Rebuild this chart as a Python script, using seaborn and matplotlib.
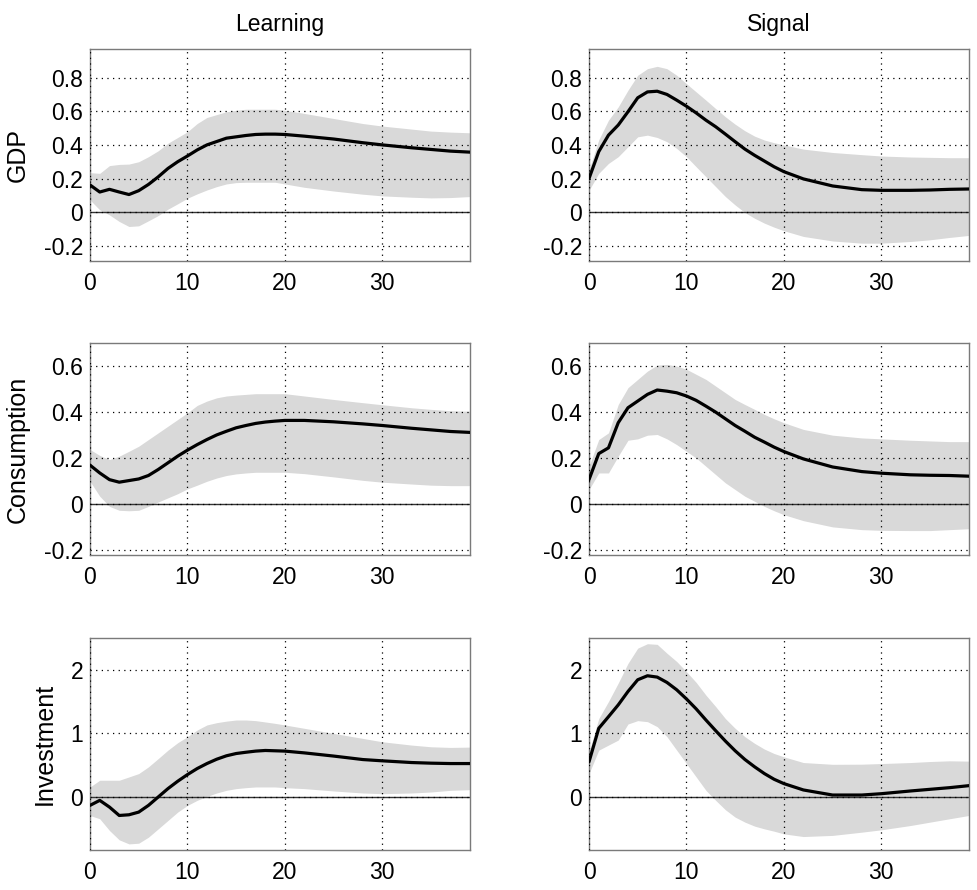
import numpy as np
import pandas as pd
import matplotlib
matplotlib.use("Agg")
import matplotlib.pyplot as plt
import seaborn as sns

# ---------------- data ----------------
horizon = [0, 1, 2, 3, 4, 5, 6, 7, 8, 9, 10, 11, 12, 13, 14, 15, 16, 17, 18, 19, 20,
           22, 25, 28, 30, 33, 35, 37, 39]

col_titles = ["Learning", "Signal"]
row_labels = ["GDP", "Consumption", "Investment"]

gdp_learning_med = [0.162, 0.12, 0.136, 0.12, 0.105, 0.128, 0.165, 0.21, 0.26, 0.30, 0.334, 0.37, 0.40, 0.42, 0.44, 0.448, 0.456, 0.462, 0.464, 0.464, 0.462, 0.452, 0.435, 0.413, 0.40, 0.383, 0.373, 0.363, 0.357]
gdp_learning_hi = [0.235, 0.231, 0.277, 0.284, 0.286, 0.30, 0.33, 0.365, 0.41, 0.444, 0.478, 0.527, 0.563, 0.58, 0.597, 0.606, 0.612, 0.612, 0.612, 0.612, 0.606, 0.587, 0.557, 0.527, 0.512, 0.494, 0.482, 0.476, 0.472]
gdp_learning_lo = [0.073, 0.014, -0.016, -0.055, -0.085, -0.081, -0.051, -0.02, 0.018, 0.05, 0.083, 0.109, 0.132, 0.152, 0.168, 0.176, 0.178, 0.178, 0.178, 0.178, 0.168, 0.148, 0.126, 0.107, 0.097, 0.089, 0.085, 0.087, 0.093]

gdp_signal_med = [0.20, 0.36, 0.458, 0.518, 0.597, 0.68, 0.715, 0.719, 0.70, 0.666, 0.63, 0.59, 0.547, 0.508, 0.464, 0.419, 0.375, 0.338, 0.304, 0.27, 0.241, 0.198, 0.156, 0.134, 0.13, 0.13, 0.132, 0.136, 0.138]
gdp_signal_hi = [0.25, 0.43, 0.547, 0.626, 0.725, 0.814, 0.853, 0.867, 0.853, 0.814, 0.764, 0.715, 0.666, 0.616, 0.567, 0.523, 0.484, 0.452, 0.429, 0.413, 0.40, 0.375, 0.355, 0.342, 0.334, 0.328, 0.326, 0.324, 0.324]
gdp_signal_lo = [0.13, 0.231, 0.29, 0.33, 0.389, 0.448, 0.458, 0.444, 0.419, 0.379, 0.33, 0.27, 0.211, 0.152, 0.093, 0.043, -0.002, -0.036, -0.065, -0.089, -0.11, -0.144, -0.171, -0.184, -0.184, -0.174, -0.164, -0.15, -0.138]

cons_learning_med = [0.17, 0.136, 0.107, 0.096, 0.103, 0.11, 0.125, 0.151, 0.18, 0.209, 0.235, 0.259, 0.281, 0.301, 0.317, 0.332, 0.342, 0.351, 0.357, 0.361, 0.364, 0.364, 0.358, 0.349, 0.342, 0.33, 0.323, 0.316, 0.312]
cons_learning_hi = [0.238, 0.212, 0.194, 0.209, 0.23, 0.252, 0.281, 0.31, 0.339, 0.368, 0.397, 0.429, 0.448, 0.462, 0.47, 0.474, 0.477, 0.48, 0.48, 0.48, 0.48, 0.47, 0.455, 0.441, 0.432, 0.419, 0.412, 0.406, 0.404]
cons_learning_lo = [0.10, 0.035, -0.009, -0.026, -0.028, -0.026, -0.009, 0.01, 0.028, 0.046, 0.067, 0.083, 0.10, 0.114, 0.125, 0.132, 0.136, 0.139, 0.139, 0.139, 0.139, 0.133, 0.119, 0.104, 0.096, 0.088, 0.083, 0.081, 0.081]

cons_signal_med = [0.107, 0.22, 0.245, 0.354, 0.419, 0.448, 0.477, 0.496, 0.491, 0.484, 0.47, 0.451, 0.426, 0.40, 0.371, 0.342, 0.317, 0.291, 0.27, 0.248, 0.229, 0.197, 0.162, 0.142, 0.135, 0.128, 0.126, 0.125, 0.122]
cons_signal_hi = [0.165, 0.281, 0.31, 0.433, 0.506, 0.542, 0.578, 0.604, 0.607, 0.60, 0.586, 0.564, 0.542, 0.513, 0.484, 0.455, 0.433, 0.412, 0.39, 0.371, 0.354, 0.325, 0.30, 0.288, 0.284, 0.278, 0.275, 0.272, 0.272]
cons_signal_lo = [0.064, 0.136, 0.136, 0.209, 0.278, 0.284, 0.30, 0.303, 0.284, 0.259, 0.23, 0.201, 0.165, 0.129, 0.093, 0.064, 0.035, 0.013, -0.009, -0.028, -0.045, -0.071, -0.098, -0.11, -0.113, -0.114, -0.114, -0.11, -0.106]

inv_learning_med = [-0.137, -0.058, -0.164, -0.296, -0.285, -0.243, -0.137, -0.005, 0.127, 0.243, 0.348, 0.443, 0.522, 0.59, 0.644, 0.68, 0.70, 0.718, 0.728, 0.723, 0.718, 0.69, 0.64, 0.585, 0.565, 0.538, 0.528, 0.522, 0.522]
inv_learning_hi = [0.153, 0.259, 0.259, 0.259, 0.311, 0.364, 0.47, 0.60, 0.733, 0.85, 0.945, 1.05, 1.13, 1.166, 1.19, 1.208, 1.208, 1.198, 1.177, 1.155, 1.13, 1.077, 0.997, 0.918, 0.865, 0.813, 0.786, 0.776, 0.781]
inv_learning_lo = [-0.296, -0.348, -0.533, -0.68, -0.744, -0.733, -0.638, -0.507, -0.375, -0.243, -0.137, -0.058, 0.005, 0.058, 0.10, 0.127, 0.142, 0.153, 0.153, 0.153, 0.142, 0.127, 0.09, 0.058, 0.047, 0.058, 0.074, 0.10, 0.11]

inv_signal_med = [0.549, 1.077, 1.26, 1.446, 1.657, 1.842, 1.905, 1.884, 1.80, 1.684, 1.54, 1.383, 1.208, 1.04, 0.876, 0.723, 0.586, 0.47, 0.364, 0.274, 0.206, 0.106, 0.026, 0.026, 0.047, 0.09, 0.116, 0.142, 0.174]
inv_signal_hi = [0.70, 1.23, 1.50, 1.79, 2.10, 2.34, 2.41, 2.40, 2.26, 2.13, 1.97, 1.80, 1.60, 1.42, 1.23, 1.077, 0.945, 0.84, 0.75, 0.68, 0.628, 0.538, 0.51, 0.512, 0.522, 0.538, 0.554, 0.565, 0.56]
inv_signal_lo = [0.364, 0.733, 0.813, 0.892, 1.145, 1.198, 1.182, 1.103, 0.945, 0.733, 0.522, 0.311, 0.10, -0.058, -0.206, -0.322, -0.401, -0.464, -0.507, -0.544, -0.586, -0.628, -0.61, -0.559, -0.522, -0.454, -0.401, -0.348, -0.296]

y_ticks = {
    "GDP": [-0.2, 0, 0.2, 0.4, 0.6, 0.8],
    "Consumption": [-0.2, 0, 0.2, 0.4, 0.6],
    "Investment": [0, 1, 2],
}
y_ticklabels = {
    "GDP": ["-0.2", "0", "0.2", "0.4", "0.6", "0.8"],
    "Consumption": ["-0.2", "0", "0.2", "0.4", "0.6"],
    "Investment": ["0", "1", "2"],
}
y_limits = {"GDP": (-0.29, 0.97), "Consumption": (-0.22, 0.70), "Investment": (-0.84, 2.5)}
x_ticks = [0, 10, 20, 30]

series = {
    ("GDP", "Learning"): (gdp_learning_med, gdp_learning_lo, gdp_learning_hi),
    ("GDP", "Signal"): (gdp_signal_med, gdp_signal_lo, gdp_signal_hi),
    ("Consumption", "Learning"): (cons_learning_med, cons_learning_lo, cons_learning_hi),
    ("Consumption", "Signal"): (cons_signal_med, cons_signal_lo, cons_signal_hi),
    ("Investment", "Learning"): (inv_learning_med, inv_learning_lo, inv_learning_hi),
    ("Investment", "Signal"): (inv_signal_med, inv_signal_lo, inv_signal_hi),
}

rows = []
for (var, shock), (med, lo, hi) in series.items():
    for h, m, l, u in zip(horizon, med, lo, hi):
        rows.append({"variable": var, "shock": shock, "h": h, "median": m, "lo": l, "hi": u})
df = pd.DataFrame(rows)

# ---------------- style ----------------
sns.set_style("white")
plt.rcParams["font.family"] = ["Liberation Sans", "DejaVu Sans"]
plt.rcParams["text.color"] = "black"
plt.rcParams["axes.labelcolor"] = "black"

fig = plt.figure(figsize=(9.77, 8.9), dpi=100)
W, H = 977, 890
col_left = [90, 589]
ax_w = 380
row_top = [49, 343, 638]
ax_h = 212

band_color = "#d9d9d9"
spine_color = "#7a7a7a"

for r, var in enumerate(row_labels):
    for c, shock in enumerate(col_titles):
        ax = fig.add_axes([col_left[c] / W, 1 - (row_top[r] + ax_h) / H, ax_w / W, ax_h / H])
        sub = df[(df.variable == var) & (df.shock == shock)]
        ax.fill_between(sub["h"], sub["lo"], sub["hi"], color=band_color, linewidth=0, zorder=1)
        ax.axhline(0, color="#333333", linewidth=1.0, zorder=2)
        sns.lineplot(data=sub, x="h", y="median", ax=ax, color="black", linewidth=2.3,
                     zorder=4, legend=False)
        ax.set_xlim(0, 39)
        ax.set_ylim(*y_limits[var])
        ax.set_xticks(x_ticks)
        ax.set_xticklabels([str(t) for t in x_ticks], fontsize=16.5)
        ax.set_yticks(y_ticks[var])
        ax.set_yticklabels(y_ticklabels[var], fontsize=16.5)
        ax.grid(True, color="black", linestyle=(0, (1, 3.5)), linewidth=0.9, zorder=3)
        ax.set_axisbelow(False)
        for s in ax.spines.values():
            s.set_color(spine_color)
            s.set_linewidth(1.0)
            s.set_visible(True)
        ax.tick_params(axis="both", direction="in", length=3, width=0.8, color=spine_color,
                       labelcolor="black")
        ax.tick_params(axis="x", pad=8)
        ax.tick_params(axis="y", pad=5)
        ax.set_xlabel("")
        if c == 0:
            ax.set_ylabel(var, fontsize=18, labelpad=10, color="black")
        else:
            ax.set_ylabel("")
        if r == 0:
            ax.set_title(shock, fontsize=16.5, pad=13, color="black")

fig.savefig("out.png", dpi=100)
